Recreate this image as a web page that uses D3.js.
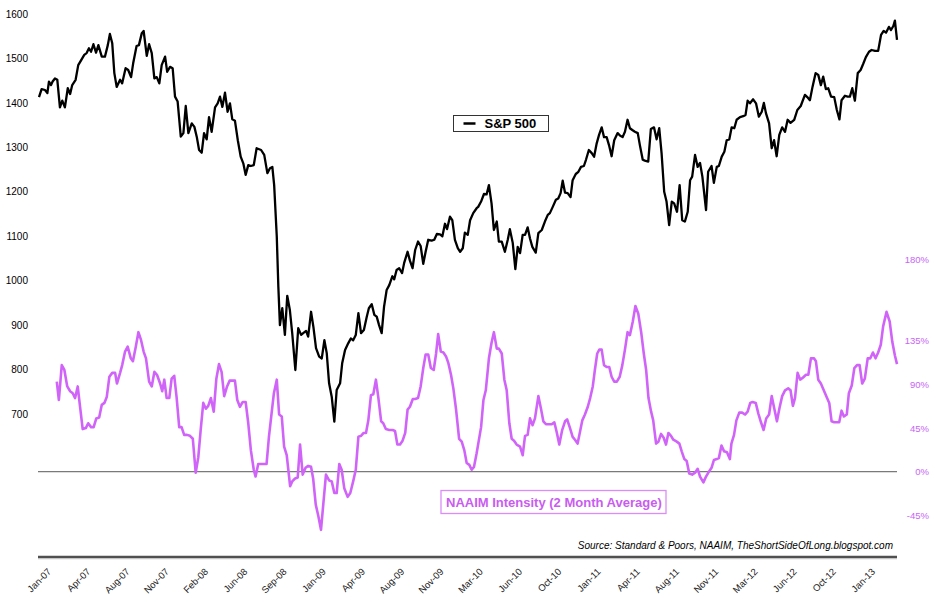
<!DOCTYPE html>
<html>
<head>
<meta charset="utf-8">
<script src="https://cdn.jsdelivr.net/npm/d3@7"></script>
<style>
body { margin: 0; background: #fff; }
text { font-family: "Liberation Sans", Arial, sans-serif; }
</style>
</head>
<body>
<div id="chart"></div>
<script>
// weekly data, x = weeks since 5 Jan 2007
var sp500 = [[0,1413],[1,1431],[2.3,1429],[3.2,1422],[3.8,1448],[4.6,1440],[5.2,1448],[6.1,1455],[7,1452],[8,1390],[8.9,1405],[9.9,1390],[11,1433],[11.9,1420],[12.7,1440],[14,1452],[15,1485],[16.3,1498],[17.3,1508],[18.2,1512],[19.1,1523],[19.9,1515],[20.8,1532],[21.8,1513],[22.7,1530],[24,1504],[25.2,1504],[26.3,1530],[27.1,1555],[28,1534],[28.8,1467],[29.7,1436],[31,1452],[31.8,1444],[33.1,1478],[34.1,1474],[35.2,1458],[36,1489],[37.3,1528],[38.2,1530],[39.3,1557],[40,1562],[41.2,1506],[42.1,1532],[43.1,1512],[44.1,1455],[45,1458],[46,1444],[46.9,1485],[48.2,1504],[49,1470],[50.1,1481],[51.1,1478],[52,1414],[53,1403],[54.2,1324],[55.2,1332],[56.1,1393],[57.1,1332],[58.4,1354],[59.4,1346],[60.3,1324],[61.2,1294],[62.2,1288],[63.1,1332],[64.1,1318],[65,1368],[66,1335],[67.3,1390],[68.3,1399],[69.2,1414],[70.1,1391],[71.1,1423],[72.1,1380],[73,1399],[73.9,1363],[74.9,1360],[76,1316],[77.1,1279],[78.1,1264],[79,1238],[80,1260],[81,1258],[82.1,1260],[83.2,1298],[84.9,1294],[86.1,1283],[87.3,1242],[88.3,1253],[89.2,1256],[89.9,1215],[90.9,1099],[91.5,986],[92.1,900],[93,938],[94,878],[94.9,966],[95.9,934],[96.8,882],[98,799],[99.1,893],[100.2,878],[101,882],[102.1,887],[102.9,874],[104,930],[104.9,896],[105.9,848],[107.1,829],[108.1,825],[109.1,866],[110,837],[110.9,769],[111.9,739],[112.9,683],[113.8,754],[115.1,769],[115.9,814],[117,844],[118.2,859],[119.2,870],[120.1,866],[121.1,878],[122.1,927],[123.1,882],[124.2,889],[125.3,919],[126.1,938],[127.2,947],[128.2,923],[129.1,919],[130,900],[131,882],[131.9,941],[132.9,979],[133.9,990],[135.1,1010],[135.8,1003],[136.7,1024],[137.7,1028],[138.8,1017],[139.6,1040],[140.9,1065],[141.8,1045],[142.8,1028],[143.8,1069],[144.9,1088],[145.9,1078],[146.9,1038],[147.8,1065],[148.8,1092],[150.1,1090],[151.1,1092],[152.1,1105],[153.3,1104],[154.2,1100],[155.2,1128],[156,1116],[157.1,1144],[158,1136],[159,1092],[160.1,1073],[161,1065],[162,1073],[162.8,1108],[163.9,1103],[164.8,1136],[166,1152],[167.3,1163],[167.9,1166],[169,1178],[170.1,1195],[171.1,1194],[172,1215],[173,1174],[173.9,1114],[175,1133],[175.8,1088],[176.9,1088],[178.1,1065],[179.2,1092],[180,1116],[181.1,1085],[182.1,1026],[183,1076],[183.9,1062],[184.9,1103],[185.8,1103],[186.8,1120],[187.7,1095],[188.6,1076],[189.9,1063],[190.9,1107],[192.2,1114],[193.4,1133],[194.5,1148],[195.3,1152],[196.4,1166],[197.6,1182],[198.5,1185],[199.4,1197],[200.2,1225],[201.1,1198],[202.1,1197],[203.2,1188],[204,1226],[205.2,1240],[206.2,1245],[207.2,1256],[208.3,1258],[209.1,1272],[210.2,1294],[211.3,1287],[212.2,1279],[213.2,1309],[214.1,1328],[215.1,1345],[216,1323],[217,1323],[217.9,1305],[218.9,1280],[219.9,1316],[221.2,1332],[222.2,1326],[223.1,1323],[224,1335],[225,1362],[225.9,1343],[226.8,1339],[227.8,1335],[228.9,1332],[229.7,1305],[230.8,1272],[231.6,1270],[232.9,1268],[233.9,1341],[235.1,1345],[236.1,1318],[237.1,1343],[238,1287],[239,1200],[239.9,1178],[240.9,1125],[241.9,1178],[242.8,1174],[243.9,1155],[244.9,1215],[245.9,1136],[246.9,1133],[248,1155],[248.9,1226],[249.7,1234],[250.8,1283],[251.8,1256],[252.7,1265],[253.6,1234],[255,1159],[255.8,1245],[257.1,1258],[258,1220],[259.1,1256],[259.9,1258],[261,1279],[262,1290],[262.9,1316],[263.9,1318],[264.8,1345],[265.8,1343],[266.7,1362],[268,1368],[269.2,1370],[270.1,1373],[270.9,1405],[271.8,1399],[273,1408],[274.1,1399],[275.2,1369],[276.3,1380],[277.1,1400],[277.9,1377],[279.1,1354],[280.1,1298],[281,1316],[282,1280],[283,1328],[284.1,1345],[285.2,1335],[286.2,1362],[287.3,1355],[288.7,1362],[289.9,1384],[291.2,1393],[292.8,1418],[293.7,1413],[294.7,1406],[295.7,1436],[296.9,1467],[297.9,1463],[298.9,1440],[299.8,1459],[300.8,1431],[301.7,1433],[302.8,1414],[304,1413],[305,1384],[306,1363],[306.8,1406],[308.1,1416],[309.1,1414],[310,1414],[310.9,1433],[311.9,1405],[313,1467],[314.1,1474],[315.1,1488],[316.1,1503],[317.3,1515],[318.3,1519],[319.6,1517],[320.8,1517],[321.9,1553],[322.9,1562],[323.8,1558],[324.9,1571],[325.7,1564],[326.6,1573],[327.2,1585],[328,1542]];

// NAAIM intensity, 2 month average (%)
var naaim = [[6.8,93],[7.6,74],[8.7,110],[9.7,105],[10.8,88],[11.9,83],[12.9,81],[13.8,76],[14.8,88],[15.7,67],[16.7,44],[17.9,45],[18.8,50],[19.9,46],[20.9,46],[21.9,55],[23,56],[24,69],[25,71],[25.9,77],[26.9,98],[28,102],[29.1,102],[29.8,91],[31,102],[31.8,110],[32.9,124],[33.9,129],[35.1,117],[35.9,114],[37,129],[38,144],[39,136],[40,124],[40.9,117],[42.1,93],[43.1,88],[44.1,103],[45.1,100],[46.3,91],[47.1,83],[47.9,95],[48.8,76],[49.8,76],[50.7,96],[51.7,99],[52.6,77],[53.6,46],[54.5,46],[55.5,38],[56.6,38],[57.7,37],[58.8,34],[59.9,-1],[60.9,15],[61.8,43],[62.8,71],[63.8,65],[64.7,68],[65.7,76],[66.8,62],[67.8,96],[68.8,111],[69.8,103],[70.8,78],[71.9,88],[72.9,94],[73.9,94],[74.9,94],[75.8,74],[76.8,67],[77.9,72],[79,72],[80,50],[81,22],[82.1,2],[82.8,-5],[83.8,8],[85.1,8],[87,8],[87.9,36],[88.9,60],[89.8,81],[90.9,95],[91.8,59],[92.8,57],[93.7,26],[94.7,17],[96,-15],[96.8,-10],[97.9,-7],[98.9,-6],[99.8,28],[100.8,-3],[101.9,4],[102.9,6],[104,5],[104.8,-7],[105.8,-34],[106.8,-46],[107.8,-60],[108.7,-33],[109.7,-3],[110.9,-9],[111.9,-10],[112.9,-22],[113.8,-22],[114.8,8],[115.7,2],[116.7,-17],[118,-26],[119,-22],[120.1,-10],[121.1,2],[122.1,36],[123.1,37],[124.1,40],[125,40],[125.9,53],[126.9,79],[127.8,80],[128.8,95],[129.7,77],[130.8,52],[131.6,50],[132.6,44],[133.9,43],[135.2,43],[136.1,42],[137,28],[138,28],[139,32],[140,40],[140.9,64],[141.8,67],[142.9,75],[143.8,75],[144.9,76],[145.9,88],[146.9,107],[147.8,121],[148.8,121],[149.8,107],[150.9,105],[151.8,122],[152.6,142],[153.6,124],[154.6,123],[155.6,119],[156.5,112],[157.5,100],[158.4,86],[159.4,65],[160.6,34],[161.6,31],[162.6,22],[163.5,9],[164.5,7],[165.4,2],[166.3,5],[167.3,19],[169,46],[169.9,74],[170.8,84],[172,117],[173,133],[173.9,144],[175,127],[175.8,127],[176.9,122],[177.9,95],[178.8,84],[179.8,50],[180.7,34],[181.6,32],[182.6,28],[183.9,26],[184.9,17],[185.8,37],[186.8,38],[187.7,55],[188.7,48],[189.6,55],[190.9,78],[191.9,65],[192.8,52],[193.8,49],[195,49],[196,49],[197,51],[197.9,41],[198.9,28],[200,43],[201.1,52],[201.9,54],[203,45],[204,36],[204.9,33],[205.9,29],[206.8,41],[207.7,53],[208.7,59],[209.8,67],[210.7,76],[211.7,88],[212.5,105],[213.4,122],[214.2,126],[215.1,126],[216,110],[217,108],[218,108],[218.9,98],[219.9,93],[220.9,93],[222,98],[223,110],[224,126],[225,144],[225.9,141],[227,155],[228,171],[229.1,163],[230.2,144],[231.2,122],[232.1,105],[233,76],[234,62],[234.8,53],[235.9,29],[236.8,31],[237.8,39],[238.8,35],[239.7,28],[240.6,40],[241.6,37],[242.5,33],[243.8,31],[244.8,29],[245.7,21],[246.7,13],[247.6,11],[248.6,-2],[249.7,-3],[250.8,-1],[251.8,3],[252.7,-5],[254,-11],[255,-5],[256.1,0],[257.1,4],[258,12],[259.1,13],[259.9,14],[260.9,27],[261.9,21],[263,20],[264.1,13],[264.7,29],[265.7,38],[266.6,53],[267.7,61],[268.8,61],[269.9,59],[270.9,62],[271.9,71],[272.8,72],[274,71],[275,60],[276,51],[277,43],[278,55],[279.1,59],[280.1,78],[281.1,65],[282.1,52],[283.1,66],[284.1,78],[285.2,84],[286.4,86],[287.3,84],[288.2,68],[289,76],[290,102],[291,95],[292,97],[293.2,100],[294.1,100],[295.1,117],[296.3,117],[297,114],[297.9,95],[298.9,91],[300,84],[301.1,77],[302.1,71],[303,52],[304,51],[305,51],[305.9,51],[306.8,63],[307.7,57],[308.8,59],[309.6,81],[310.7,89],[311.7,107],[312.7,110],[313.7,110],[314.7,91],[315.7,96],[316.8,117],[317.8,117],[318.8,123],[319.8,117],[320.8,123],[321.8,131],[322.7,150],[324,165],[325.2,155],[326.2,134],[327.2,120],[328,111]];

// category labels, one every 15 weeks
var xLabels = ["Jan-07","Apr-07","Aug-07","Nov-07","Feb-08","Jun-08","Sep-08","Jan-09","Apr-09","Aug-09","Nov-09","Mar-10","Jun-10","Oct-10","Jan-11","Apr-11","Aug-11","Nov-11","Mar-12","Jun-12","Oct-12","Jan-13"];
var leftTicks = [700, 800, 900, 1000, 1100, 1200, 1300, 1400, 1500, 1600];
var rightTicks = [-45, 0, 45, 90, 135, 219];
var rightLabels = ["-45%", "0%", "45%", "90%", "135%", "180%"];

var width = 936, height = 602;
var purple = "#d064f8";

var svg = d3.select("#chart")
    .append("svg")
    .attr("width", width)
    .attr("height", height);

var x = d3.scaleLinear().domain([0, 328]).range([39, 897]);
var yL = d3.scaleLinear().domain([700, 1600]).range([414, 14]);
var yR = d3.scaleLinear().domain([-45, 135]).range([515.3, 340.9]);

// left axis (S&P)
var gl = svg.append("g")
    .attr("transform", "translate(31,0)")
    .call(d3.axisLeft(yL).tickValues(leftTicks).tickSize(0).tickPadding(3)
        .tickFormat(d3.format("d")));
gl.select(".domain").remove();
gl.selectAll("text")
    .style("font-family", "'Liberation Sans', Arial, sans-serif")
    .style("font-size", "10px")
    .attr("fill", "#000");

// right axis (NAAIM)
var gr = svg.append("g")
    .attr("transform", "translate(929,0)")
    .call(d3.axisRight(yR).tickValues(rightTicks).tickSize(0)
        .tickFormat(function(d, i) { return rightLabels[i]; }));
gr.select(".domain").remove();
gr.selectAll("text")
    .attr("x", 0)
    .style("text-anchor", "end")
    .style("font-family", "'Liberation Sans', Arial, sans-serif")
    .style("font-size", "9.5px")
    .attr("fill", "#c765f5");

// zero line
svg.append("line")
    .attr("x1", 38).attr("x2", 897)
    .attr("y1", yR(0)).attr("y2", yR(0))
    .attr("stroke", "#7a7a7a")
    .attr("stroke-width", 1.2);

// bottom axis line with a soft shadow
svg.append("line")
    .attr("x1", 38).attr("x2", 897)
    .attr("y1", 558.5).attr("y2", 558.5)
    .attr("stroke", "#c4c4c4")
    .attr("stroke-width", 1.5);
svg.append("line")
    .attr("x1", 38).attr("x2", 897)
    .attr("y1", 556.8).attr("y2", 556.8)
    .attr("stroke", "#505050")
    .attr("stroke-width", 2.2);

// x labels
var gx = svg.append("g")
    .attr("transform", "translate(0,557)")
    .call(d3.axisBottom(x)
        .tickValues(xLabels.map(function(d, i) { return i * 15; }))
        .tickSize(0)
        .tickFormat(function(d, i) { return xLabels[i]; }));
gx.select(".domain").remove();
gx.selectAll("text")
    .attr("x", 0).attr("y", 0).attr("dy", "0.35em")
    .attr("transform", "translate(10,13) rotate(-45)")
    .style("text-anchor", "end")
    .style("font-family", "'Liberation Sans', Arial, sans-serif")
    .style("font-size", "9.5px")
    .attr("fill", "#222");

// NAAIM line
svg.append("path")
    .datum(naaim)
    .attr("fill", "none")
    .attr("stroke", purple)
    .attr("stroke-width", 2.6)
    .attr("stroke-linejoin", "round")
    .attr("d", d3.line()
        .x(function(d) { return x(d[0]); })
        .y(function(d) { return yR(d[1]); }));

// S&P 500 line
svg.append("path")
    .datum(sp500)
    .attr("fill", "none")
    .attr("stroke", "#000")
    .attr("stroke-width", 2.3)
    .attr("stroke-linejoin", "round")
    .attr("d", d3.line()
        .x(function(d) { return x(d[0]); })
        .y(function(d) { return yL(d[1]); }));

// legend
var lg = svg.append("g").attr("transform", "translate(453.5,115.5)");
lg.append("rect")
    .attr("width", 95).attr("height", 16)
    .attr("fill", "#fff").attr("stroke", "#333").attr("stroke-width", 1);
lg.append("line")
    .attr("x1", 10).attr("x2", 22).attr("y1", 8).attr("y2", 8)
    .attr("stroke", "#000").attr("stroke-width", 2.5);
lg.append("text")
    .attr("x", 31).attr("y", 12.5)
    .style("font-size", "13px").style("font-weight", "bold")
    .text("S&P 500");

// NAAIM label
var nl = svg.append("g").attr("transform", "translate(441,490.5)");
nl.append("rect")
    .attr("width", 225).attr("height", 23)
    .attr("fill", "#fff").attr("stroke", "#dc8cf8").attr("stroke-width", 1.3);
nl.append("text")
    .attr("x", 5).attr("y", 16.5)
    .attr("fill", "#c95cf0")
    .style("font-size", "13px").style("font-weight", "bold")
    .text("NAAIM Intensity (2 Month Average)");

// source
svg.append("text")
    .attr("x", 893).attr("y", 549)
    .attr("text-anchor", "end")
    .style("font-size", "10px").style("font-style", "italic")
    .text("Source: Standard & Poors, NAAIM, TheShortSideOfLong.blogspot.com");
</script>
</body>
</html>
